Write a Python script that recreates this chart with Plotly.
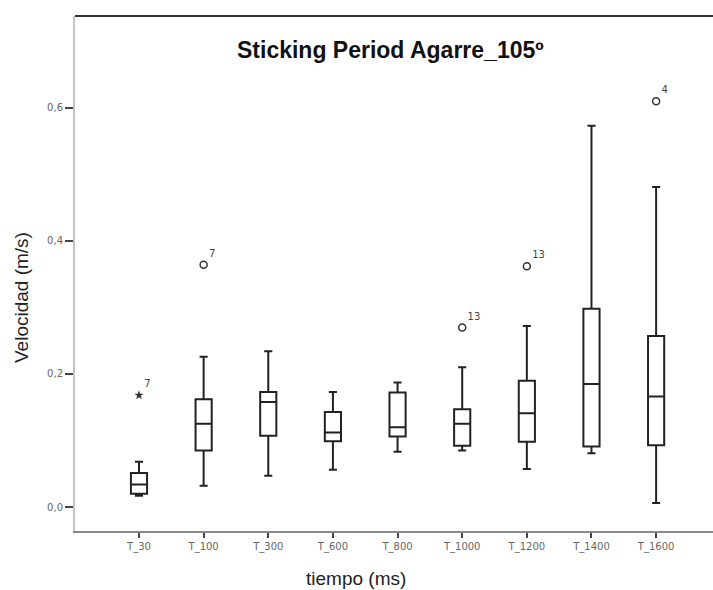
import plotly.graph_objects as go

categories = ["T_30", "T_100", "T_300", "T_600", "T_800", "T_1000", "T_1200", "T_1400", "T_1600"]
lower_whisker = [0.017, 0.032, 0.047, 0.056, 0.083, 0.085, 0.057, 0.081, 0.006]
q1_values = [0.020, 0.085, 0.107, 0.099, 0.106, 0.092, 0.098, 0.091, 0.093]
medians = [0.034, 0.125, 0.158, 0.112, 0.120, 0.125, 0.141, 0.185, 0.166]
q3_values = [0.051, 0.162, 0.173, 0.143, 0.172, 0.147, 0.190, 0.298, 0.257]
upper_whisker = [0.068, 0.226, 0.234, 0.173, 0.187, 0.210, 0.272, 0.573, 0.481]

outlier_cats = ["T_100", "T_1000", "T_1200", "T_1600"]
outlier_vals = [0.364, 0.270, 0.362, 0.610]
outlier_labels = ["7", "13", "13", "4"]
extreme_cats = ["T_30"]
extreme_vals = [0.168]
extreme_labels = ["7"]

y_ticks = [0.0, 0.2, 0.4, 0.6]

FONT = "Liberation Sans, Arial, sans-serif"
TICKFONT = "DejaVu Sans, sans-serif"

fig = go.Figure()
fig.add_trace(go.Box(
    x=categories, q1=q1_values, median=medians, q3=q3_values,
    lowerfence=lower_whisker, upperfence=upper_whisker,
    boxpoints=False, fillcolor="white",
    line=dict(color="#222222", width=2),
    width=0.25, whiskerwidth=0.5, showlegend=False, hoverinfo="skip",
))
fig.add_trace(go.Scatter(
    x=outlier_cats, y=outlier_vals, mode="markers+text",
    marker=dict(symbol="circle-open", size=7, color="#333333", line=dict(width=1.5)),
    text=outlier_labels, textposition="top right",
    textfont=dict(family=TICKFONT, size=10, color="#444444"),
    showlegend=False, cliponaxis=False,
))
fig.add_trace(go.Scatter(
    x=extreme_cats, y=extreme_vals, mode="markers+text",
    marker=dict(symbol="star", size=7, color="#333333"),
    text=extreme_labels, textposition="top right",
    textfont=dict(family=TICKFONT, size=10, color="#444444"),
    showlegend=False, cliponaxis=False,
))

fig.add_shape(type="line", xref="paper", yref="paper", x0=0, x1=1, y0=1, y1=1,
              line=dict(color="#333333", width=2))

fig.add_annotation(text="<b>Sticking Period Agarre_105º</b>", xref="paper", yref="paper",
                   x=(390 - 75) / 638, y=(531 - 50) / 515, showarrow=False,
                   font=dict(family=FONT, size=23, color="#111111"),
                   xanchor="center", yanchor="middle")
fig.add_annotation(text="Velocidad (m/s)", xref="paper", yref="paper",
                   x=(22 - 75) / 638, y=(531 - 298) / 515, textangle=-90, showarrow=False,
                   font=dict(family=FONT, size=19, color="#222222"),
                   xanchor="center", yanchor="middle")
fig.add_annotation(text="tiempo (ms)", xref="paper", yref="paper",
                   x=(356 - 75) / 638, y=(531 - 578) / 515, showarrow=False,
                   font=dict(family=FONT, size=19, color="#222222"),
                   xanchor="center", yanchor="middle")

fig.update_layout(
    width=713, height=590,
    margin=dict(l=75, r=0, t=16, b=59),
    plot_bgcolor="white", paper_bgcolor="white",
    separators=",.",
    font=dict(family=FONT),
    xaxis=dict(
        type="category", categoryorder="array", categoryarray=categories,
        range=[-0.99, 8.88], showgrid=False, zeroline=False,
        showline=True, linecolor="#888888", linewidth=2,
        ticks="outside", ticklen=5, tickcolor="#444444", tickwidth=1.5,
        tickfont=dict(family=TICKFONT, size=10, color="#666666"),
    ),
    yaxis=dict(
        range=[-0.036, 0.738], tickvals=y_ticks, tickformat=".1f",
        showgrid=False, zeroline=False,
        showline=True, linecolor="#c4c4c4", linewidth=2,
        ticks="outside", ticklen=8, tickcolor="#444444", tickwidth=1.5,
        tickfont=dict(family=TICKFONT, size=10, color="#666666"),
    ),
)

fig.write_html("out.html")
